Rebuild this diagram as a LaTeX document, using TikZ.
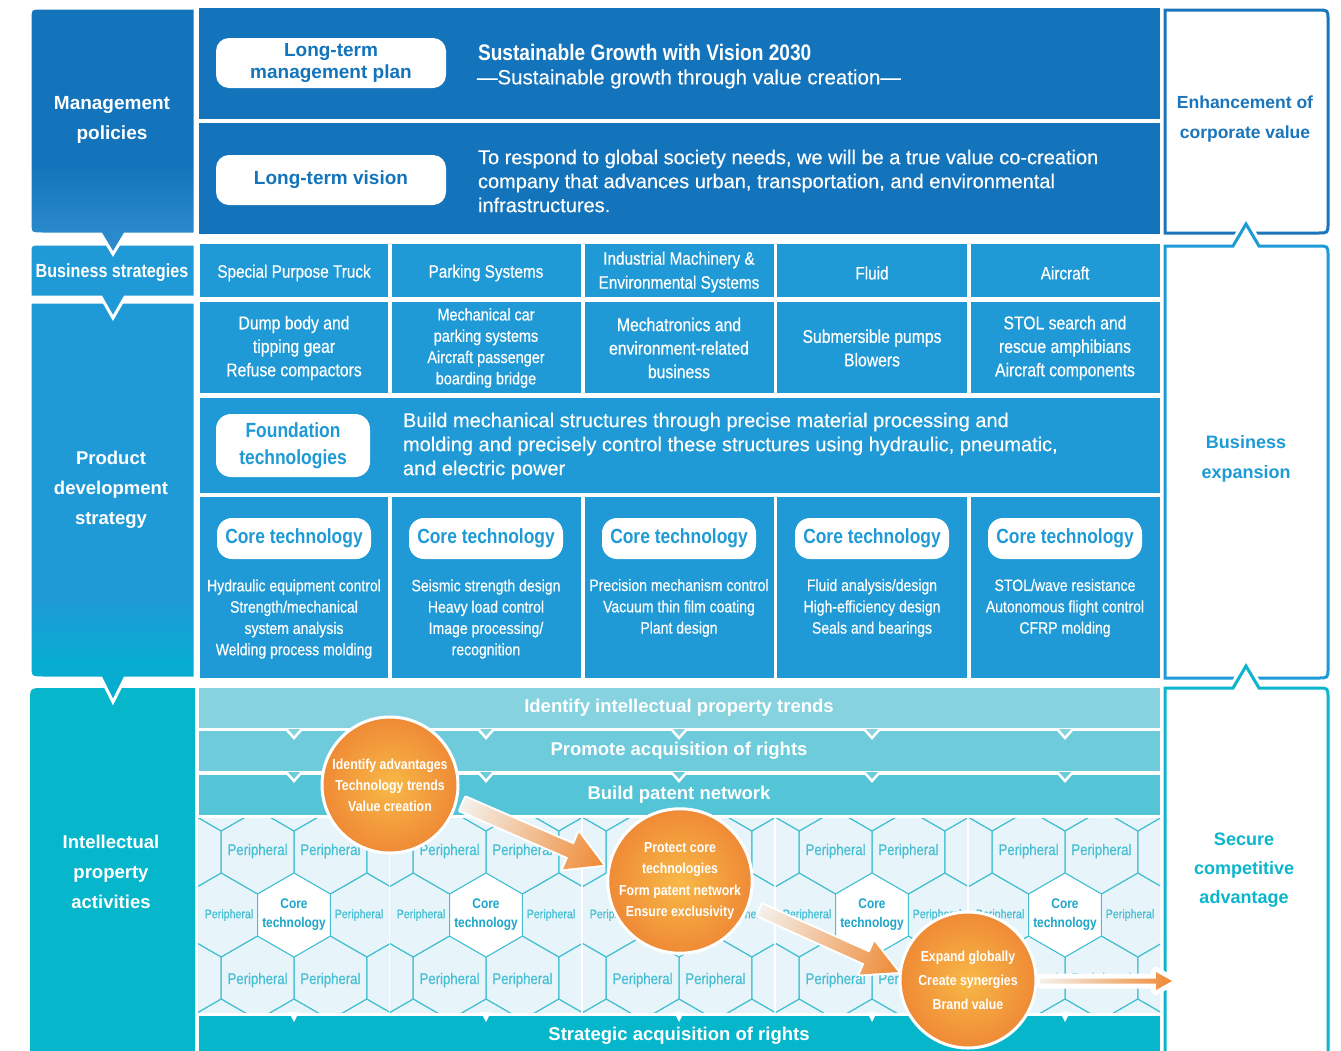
\documentclass[tikz,border=0pt]{standalone}
\usepackage{fontspec}
\setmainfont{Liberation Sans}
\newfontfamily\condfont[FakeStretch=0.85, FakeBold=0.5]{Liberation Sans}
\newfontfamily\condplain[FakeStretch=0.85]{Liberation Sans}
\newfontfamily\bodyfont[FakeBold=0.3]{Liberation Sans}
\usetikzlibrary{calc}

\newcommand\fsz[2]{\fontsize{#1}{#2}\selectfont}

\definecolor{mgmtblue}{HTML}{1373BB}
\definecolor{mgmtlight}{HTML}{2A8ACB}
\definecolor{bizblue}{HTML}{1F9AD6}
\definecolor{prodteal}{HTML}{07ACD1}
\definecolor{ipteal}{HTML}{06B7CB}
\definecolor{bandA}{HTML}{86D3DF}
\definecolor{bandB}{HTML}{6DCBDB}
\definecolor{bandC}{HTML}{54C4D7}
\definecolor{hexbg}{HTML}{E7F4F9}
\definecolor{hexline}{HTML}{45BFD3}
\definecolor{hexcoretxt}{HTML}{1DA6C9}
\definecolor{orangeedge}{HTML}{EF8A36}
\definecolor{orangecore}{HTML}{F8B846}
\definecolor{arrowstart}{HTML}{F4F1EC}
\definecolor{valueblue}{HTML}{1A75BC}
\definecolor{growblue}{HTML}{1E9AD6}
\definecolor{secureteal}{HTML}{0BB5CB}

% vertical blends of the two tall side blocks (0bp = bottom)
\pgfdeclareverticalshading{mgshade}{100bp}{color(0bp)=(mgmtlight); color(29bp)=(mgmtlight); color(44bp)=(mgmtblue); color(100bp)=(mgmtblue)}
\pgfdeclareverticalshading{pdshade}{100bp}{color(0bp)=(prodteal); color(30bp)=(prodteal); color(38bp)=(bizblue); color(100bp)=(bizblue)}

% shaded block arrow: start, angle, length, shaft half width, head half width, head length, outline width
\newcommand\gradarrow[7]{%
  \begin{scope}[transform canvas={shift={(#1)}, rotate=#2}]
    \shade[left color=arrowstart, right color=orangeedge,
           preaction={draw=white, line width=#7, line join=round}]
      (0,-#4) -- ({#3-#6},-#4) -- ({#3-#6},-#5) -- (#3,0) -- ({#3-#6},#5) -- ({#3-#6},#4) -- (0,#4) -- cycle;
  \end{scope}}

\begin{document}
\begin{tikzpicture}[x=1pt, y=-1pt,
  every node/.style={inner sep=0pt, outer sep=0pt},
  sidelbl/.style={text=white, align=center, font=\bfseries\fsz{18.5}{30}},
  toppill/.style={fill=white, rounded corners=13pt, minimum width=230pt, minimum height=50pt, text=mgmtblue, align=center, font=\bfseries\fsz{19}{22}},
  bodytxt/.style={text=white, align=left, anchor=west, font=\bodyfont\fsz{20}{24}},
  segname/.style={text=white, align=center, font=\condfont\fsz{18}{24}},
  prodtxt/.style={text=white, align=center, font=\condfont\fsz{18.5}{23.5}},
  ctpill/.style={fill=white, rounded corners=15pt, minimum width=154pt, minimum height=41pt, text=bizblue, font=\condplain\bfseries\fsz{20.5}{24}},
  cttxt/.style={text=white, align=center, font=\condfont\fsz{16.5}{21.3}},
  bandtxt/.style={text=white, font=\bfseries\fsz{18.5}{22}},
  hexedge/.style={draw=hexline, line width=1pt},
  perif/.style={text=hexline, font=\condfont\fsz{15.5}{18}},
  perifs/.style={text=hexline, font=\condfont\fsz{12.5}{15}},
  hexcore/.style={text=hexcoretxt, align=center, font=\condplain\bfseries\fsz{14}{19}},
  orb/.style={circle, minimum size=136pt, inner color=orangecore, outer color=orangeedge, draw=white, line width=3pt, text=white, align=center, font=\condplain\bfseries\fsz{14.5}{21}},
  valuebox/.style={fill=white, line width=3pt, preaction={draw=white, line width=9pt}},
  valuetxt/.style={align=center, font=\bfseries\fsz{18}{30}},
]
\useasboundingbox[fill=white] (0,0) rectangle (1341,1050);

% ---------------- left column ----------------
\fill[ipteal] (30,1070) -- (30,702) .. controls (30,688) .. (44,688) -- (195,688) -- (195,1070) -- cycle;
\shadedraw[shading=pdshade, draw=white, line width=3pt]
  (30,302) -- (195,302) -- (195,678) -- (125,678) -- (113,702) -- (101,678) -- (44,678) .. controls (30,678) .. (30,664) -- cycle;
\filldraw[fill=bizblue, draw=white, line width=3pt]
  (195,244) -- (40,244) .. controls (30,244) .. (30,254) -- (30,297) -- (101,297) -- (113,318) -- (125,297) -- (195,297) -- cycle;
\shadedraw[shading=mgshade, draw=white, line width=3pt]
  (195,8) -- (43,8) .. controls (30,8) .. (30,21) -- (30,221) .. controls (30,234) .. (43,234) -- (101,234) -- (113,254) -- (125,234) -- (195,234) -- cycle;

\node[sidelbl, font=\bfseries\fsz{19}{30}] (mp) at (112,120) {Management\\policies};
\node[sidelbl, font=\condplain\bfseries\fsz{19}{22}] (bs) at (112,273) {Business strategies};
\node[sidelbl] (pds) at (111,490) {Product\\development\\strategy};
\node[sidelbl] (ipa) at (111,872) {Intellectual\\property\\activities};

% ---------------- management rows ----------------
\fill[mgmtblue] (199,8) rectangle (1160,119);
\fill[mgmtblue] (199,123) rectangle (1160,234);
\node[toppill] (ltmp) at (331,63) {Long-term\\management plan};
\node[toppill] (ltv) at (331,180) {Long-term vision};
\node[bodytxt, font=\condplain\bfseries\fsz{22.5}{26}] (vtitle) at (478,52) {Sustainable Growth with Vision 2030};
\node[bodytxt, font=\bodyfont\fsz{20.5}{24}] (vsub) at (477,79) {—Sustainable growth through value creation—};
\node[bodytxt] (vtxt) at (478,181) {To respond to global society needs, we will be a true value co-creation\\company that advances urban, transportation, and environmental\\infrastructures.};

% ---------------- business segment rows ----------------
\foreach \l/\r in {200/388, 392/581, 585/774, 777/967, 971/1160} {
  \fill[bizblue] (\l,244) rectangle (\r,297);
  \fill[bizblue] (\l,302) rectangle (\r,393);
  \fill[bizblue] (\l,497) rectangle (\r,678);
}
\fill[bizblue] (200,398) rectangle (1160,493);

\node[segname] (sg1) at (294,273) {Special Purpose Truck};
\node[segname] (sg2) at (486,273) {Parking Systems};
\node[segname] (sg3) at (679,272) {Industrial Machinery \&\\Environmental Systems};
\node[segname] (sg4) at (872,273) {Fluid};
\node[segname] (sg5) at (1065,273) {Aircraft};

\node[prodtxt] (pr1) at (294,348) {Dump body and\\tipping gear\\Refuse compactors};
\node[prodtxt, font=\condfont\fsz{17}{21.3}] (pr2) at (486,348) {Mechanical car\\parking systems\\Aircraft passenger\\boarding bridge};
\node[prodtxt] (pr3) at (679,348) {Mechatronics and\\environment-related\\business};
\node[prodtxt] (pr4) at (872,348) {Submersible pumps\\Blowers};
\node[prodtxt] (pr5) at (1065,348) {STOL search and\\rescue amphibians\\Aircraft components};

\node[ctpill, minimum height=63pt, align=center, font=\condplain\bfseries\fsz{20.5}{27}] (ft) at (293,445.5) {Foundation\\technologies};
\node[bodytxt] (fttxt) at (403,446) {Build mechanical structures through precise material processing and\\molding and precisely control these structures using hydraulic, pneumatic,\\and electric power};

\foreach \cx [count=\i] in {294,486,679,872,1065}
  \node[ctpill] (ct\i) at (\cx,538.5) {Core technology};

\node[cttxt] (cd1) at (294,619) {Hydraulic equipment control\\Strength/mechanical\\system analysis\\Welding process molding};
\node[cttxt] (cd2) at (486,619) {Seismic strength design\\Heavy load control\\Image processing/\\recognition};
\node[cttxt] (cd3) at (679,608) {Precision mechanism control\\Vacuum thin film coating\\Plant design};
\node[cttxt] (cd4) at (872,608) {Fluid analysis/design\\High-efficiency design\\Seals and bearings};
\node[cttxt] (cd5) at (1065,608) {STOL/wave resistance\\Autonomous flight control\\CFRP molding};

% ---------------- intellectual property area ----------------
\fill[ipteal] (199,1016) rectangle (1160,1070);

\foreach \cx [count=\i] in {294,486,679,872,1065} {
  \begin{scope}
    \clip ({\cx-96},818) rectangle ({\cx+95},1012.5);
    \fill[hexbg] ({\cx-96},818) rectangle ({\cx+95},1012.5);
    \foreach \dx/\dy in {0/-126, 72.8/-126, -72.8/-126, 36.4/-63, -36.4/-63, 109.2/-63, -109.2/-63,
                         72.8/0, -72.8/0, 36.4/63, -36.4/63, 109.2/63, -109.2/63, 0/126, 72.8/126, -72.8/126}
      \draw[hexedge] ({\cx+\dx},{915+\dy-42}) -- ++(36.4,21) -- ++(0,42) -- ++(-36.4,21) -- ++(-36.4,-21) -- ++(0,-42) -- cycle;
    \filldraw[fill=white, hexedge] (\cx,873) -- ++(36.4,21) -- ++(0,42) -- ++(-36.4,21) -- ++(-36.4,-21) -- ++(0,-42) -- cycle;
  \end{scope}
  \fill[white] ({\cx-5},1012) -- (\cx,1022) -- ({\cx+5},1012) -- cycle;
  \node[perifs] (pc\i) at ({\cx-65},915) {Peripheral};
  \node[perifs] (pd\i) at ({\cx+65},915) {Peripheral};
  \node[perif] (pe\i) at ({\cx-36.4},980) {Peripheral};
  \node[perif] (pf\i) at ({\cx+36.4},980) {Peripheral};
}
% labels of the upper and core cells that stay in view
\foreach \cx [count=\i] in {294,486,872,1065} {
  \node[perif] (pa\i) at ({\cx-36.4},851) {Peripheral};
  \node[perif] (pb\i) at ({\cx+36.4},851) {Peripheral};
  \node[hexcore] (hc\i) at (\cx,914.5) {Core\\technology};
}

\fill[bandC] (199,775) rectangle (1160,815);
\fill[bandB] (199,731) rectangle (1160,771);
\fill[bandA] (199,688) rectangle (1160,728);
\foreach \cx in {294,486,679,872,1065} {
  \filldraw[fill=bandB, draw=white, line width=2.5pt] ({\cx-8},772) -- (\cx,781) -- ({\cx+8},772);
  \filldraw[fill=bandA, draw=white, line width=2.5pt] ({\cx-8},729) -- (\cx,738) -- ({\cx+8},729);
}
\node[bandtxt] (ipt) at (679,708) {Identify intellectual property trends};
\node[bandtxt] (par) at (679,751) {Promote acquisition of rights};
\node[bandtxt] (bpn) at (679,795) {Build patent network};
\node[bandtxt] (sar) at (679,1036) {Strategic acquisition of rights};

% ---------------- outcome boxes on the right ----------------
\path[valuebox, draw=valueblue]
  (1165,10) -- (1318,10) .. controls (1328,10) .. (1328,20) -- (1328,223) .. controls (1328,233) .. (1318,233) -- (1165,233) -- cycle;
\path[valuebox, draw=growblue]
  (1165,246) -- (1233,246) -- (1246,224) -- (1259,246) -- (1318,246) .. controls (1328,246) .. (1328,256)
  -- (1328,668) .. controls (1328,678) .. (1318,678) -- (1165,678) -- cycle;
\path[valuebox, draw=secureteal]
  (1165,688) -- (1233,688) -- (1246,666) -- (1259,688) -- (1318,688) .. controls (1328,688) .. (1328,698)
  -- (1328,1075) -- (1165,1075) -- cycle;
\node[valuetxt, text=valueblue, font=\bfseries\fsz{17.5}{30}] (ecv) at (1245,119) {Enhancement of\\corporate value};
\node[valuetxt, text=growblue] (bex) at (1246,459) {Business\\expansion};
\node[valuetxt, text=secureteal, font=\bfseries\fsz{18}{29}] (sca) at (1244,870) {Secure\\competitive\\advantage};

% ---------------- activity flow ----------------
\coordinate (a1s) at (463,804);
\coordinate (a2s) at (760,910);
\coordinate (a3s) at (1040,981);
\gradarrow{a1s}{-23.5}{152.7}{7}{20}{35}{4pt}
\gradarrow{a2s}{-24.2}{151.3}{6}{18}{34}{4pt}
\gradarrow{a3s}{0}{132}{2.5}{9}{16}{10pt}

\node[orb] (c1) at (390,785) {Identify advantages\\Technology trends\\Value creation};
\node[orb, minimum size=135pt, font=\condplain\bfseries\fsz{14.5}{21.5}] (c2) at (680,881) {Protect core\\technologies\\Form patent network\\Ensure exclusivity};
\node[orb, font=\condplain\bfseries\fsz{14.5}{24}] (c3) at (968,980) {Expand globally\\Create synergies\\Brand value};

\end{tikzpicture}
\end{document}
